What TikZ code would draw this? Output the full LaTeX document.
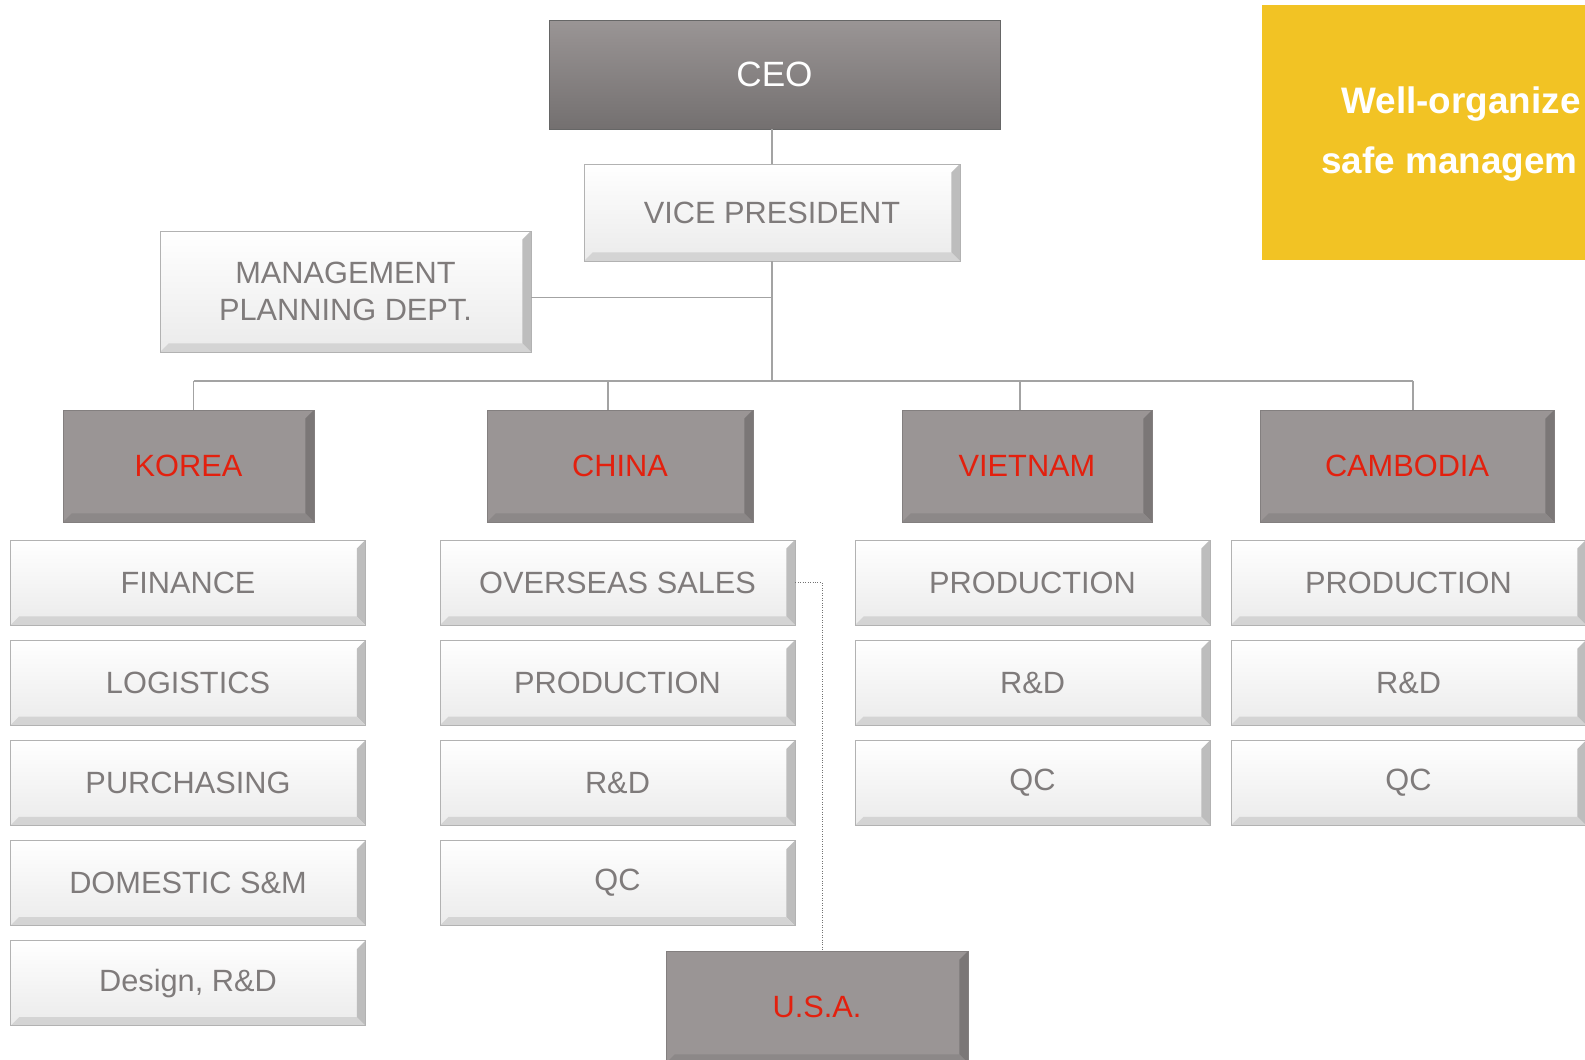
\documentclass[tikz,border=0pt]{standalone}
\usepackage{fontspec}
\setmainfont{Liberation Sans}
\usepackage{xcolor}
\usetikzlibrary{positioning}

\definecolor{labelgray}{HTML}{7F7B7B}
\definecolor{regionred}{HTML}{E3200E}
\definecolor{regionfill}{HTML}{9A9595}
\definecolor{bannerfill}{HTML}{F2C324}
\definecolor{linkgray}{HTML}{A3A3A3}

\newcommand\bevelsize{0.17cm}

\tikzset{
  bevel/.style 2 args={path picture={
    \path (path picture bounding box.south west) coordinate (bsw)
          (path picture bounding box.north east) coordinate (bne);
    % right edge
    \fill[#1] (bne) -- (bne |- bsw) -- ([shift={(-\bevelsize,\bevelsize)}]bne |- bsw)
      -- ([shift={(-\bevelsize,-\bevelsize)}]bne) -- cycle;
    % bottom edge
    \fill[#2] (bsw) -- (bne |- bsw) -- ([shift={(-\bevelsize,\bevelsize)}]bne |- bsw)
      -- ([shift={(\bevelsize,\bevelsize)}]bsw) -- cycle;
  }},
  dept/.style={draw=black!30, top color=white, bottom color=black!8,
    text=labelgray, font=\fontsize{17.5}{21}\selectfont, inner sep=0pt,
    minimum width=7.1cm, minimum height=1.7cm, bevel={black!26}{black!17}},
  region/.style={draw=regionfill!85!black, fill=regionfill, text=regionred,
    font=\fontsize{17.5}{21}\selectfont, inner sep=0pt, minimum height=2.24cm,
    bevel={regionfill!80!black}{regionfill!91!black}},
  link/.style={draw=linkgray, line width=0.6pt}
}

\begin{document}
\begin{tikzpicture}[x=0.02cm, y=-0.02cm]
  \useasboundingbox (0,0) rectangle (1585,1060);
  \fill[white] (0,0) rectangle (1585,1060);
  \clip (0,0) rectangle (1585,1060);

  % top of the chart
  \node[draw=black!60, top color=regionfill, bottom color=regionfill!75!black,
    text=white, font=\fontsize{20}{24}\selectfont,
    minimum width=9.02cm, minimum height=2.18cm] (ceo) at (774.5,74.5) {CEO};
  \node[dept, minimum width=7.52cm, minimum height=1.94cm] (vp) at (772,212.5) {VICE PRESIDENT};
  \node[dept, minimum width=7.42cm, minimum height=2.42cm, align=center] (mpd) at (345.5,291.5)
    {MANAGEMENT\\PLANNING DEPT.};

  % banner
  \fill[bannerfill] (1262,5) rectangle (1600,260);
  \node[anchor=west, text=white, font=\fontsize{21}{25}\selectfont\bfseries, inner sep=0pt]
    (slogana) at (1341,104) {Well-organize};
  \node[anchor=west, text=white, font=\fontsize{21}{25}\selectfont\bfseries, inner sep=0pt]
    (sloganb) at (1321,164) {safe managem};

  % regions
  \node[region, minimum width=5.02cm] (korea) at (188.5,466) {KOREA};
  \node[region, minimum width=5.32cm] (china) at (620,466) {CHINA};
  \node[region, minimum width=5.0cm] (vietnam) at (1027,466) {VIETNAM};
  \node[region, minimum width=5.88cm] (cambodia) at (1407,466) {CAMBODIA};
  \node[region, minimum width=6.04cm] (usa) at (817,1007) {U.S.A.};

  % korea departments
  \node[dept] (kfin) at (188,582.5) {FINANCE};
  \node[dept, below=0.29cm of kfin] (klog) {LOGISTICS};
  \node[dept, below=0.29cm of klog] (kpur) {PURCHASING};
  \node[dept, below=0.29cm of kpur] (kdom) {DOMESTIC S\&M};
  \node[dept, below=0.29cm of kdom] (kdes) {Design, R\&D};

  % china departments
  \node[dept] (csales) at (617.5,582.5) {OVERSEAS SALES};
  \node[dept, below=0.29cm of csales] (cprod) {PRODUCTION};
  \node[dept, below=0.29cm of cprod] (crd) {R\&D};
  \node[dept, below=0.29cm of crd] (cqc) {QC};

  % vietnam departments
  \node[dept] (vprod) at (1032.5,582.5) {PRODUCTION};
  \node[dept, below=0.29cm of vprod] (vrd) {R\&D};
  \node[dept, below=0.29cm of vrd] (vqc) {QC};

  % cambodia departments
  \node[dept] (bprod) at (1408.5,582.5) {PRODUCTION};
  \node[dept, below=0.29cm of bprod] (brd) {R\&D};
  \node[dept, below=0.29cm of brd] (bqc) {QC};

  % connectors
  \coordinate (bus) at (772,381);
  \draw[link] (vp.north |- ceo.south) -- (vp.north);
  \draw[link] (vp.south) -- (bus);
  \draw[link] ([yshift=-0.12cm]mpd.east) -- ([yshift=-0.12cm]mpd.east -| vp.south);
  \draw[link] ([xshift=0.1cm]korea.north |- bus) -- ([xshift=0.12cm]cambodia.north |- bus);
  \draw[link] ([xshift=0.1cm]korea.north) -- ([xshift=0.1cm]korea.north |- bus);
  \draw[link] ([xshift=-0.24cm]china.north) -- ([xshift=-0.24cm]china.north |- bus);
  \draw[link] ([xshift=-0.14cm]vietnam.north) -- ([xshift=-0.14cm]vietnam.north |- bus);
  \draw[link] ([xshift=0.12cm]cambodia.north) -- ([xshift=0.12cm]cambodia.north |- bus);
  \draw[draw=black!55, line width=0.4pt, densely dotted] (csales.east) -| ([xshift=0.1cm]usa.north);
\end{tikzpicture}
\end{document}
